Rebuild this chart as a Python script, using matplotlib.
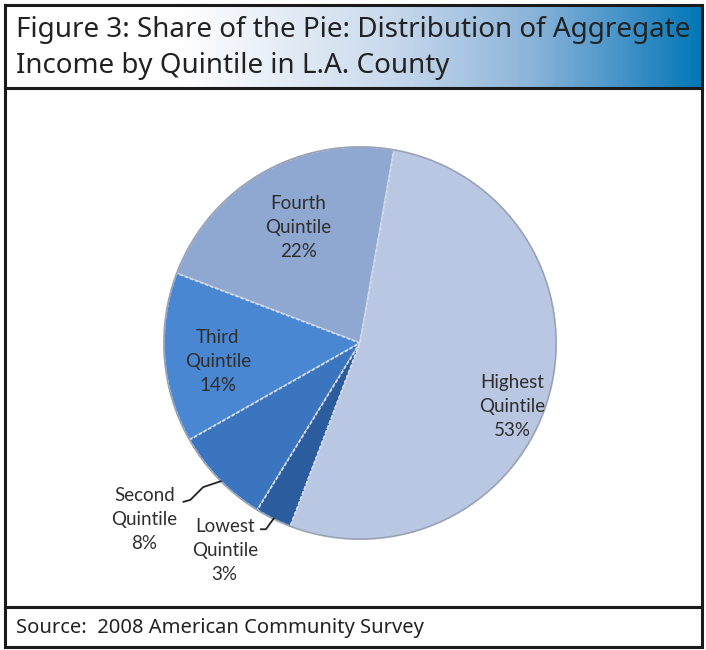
import numpy as np
import matplotlib
matplotlib.use('Agg')
import matplotlib.pyplot as plt
from matplotlib.colors import LinearSegmentedColormap
from matplotlib.patches import Rectangle, Circle

# datos del grafico
quintiles = ['Fourth\nQuintile', 'Third\nQuintile', 'Second\nQuintile', 'Lowest\nQuintile', 'Highest\nQuintile']
shares = [22, 14, 8, 3, 53]
colors = ['#8fa8d2', '#4a87d2', '#3b74bf', '#2b5c9e', '#b9c7e2']

title = 'Figure 3: Share of the Pie: Distribution of Aggregate\nIncome by Quintile in L.A. County'
source = 'Source:  2008 American Community Survey'

W, H = 706, 650
fig = plt.figure(figsize=(W / 100, H / 100), dpi=100)

def fx(px):
    return px / W

def fy(py):
    return 1 - py / H

# banda del titulo con degradado
head = fig.add_axes([fx(6), fy(88), fx(698), fy(6) - fy(88)])
grad = np.linspace(0, 1, 400).reshape(1, -1)
cmap = LinearSegmentedColormap.from_list('head', [(0, '#ffffff'), (0.25, '#ffffff'), (0.55, '#c9d9ec'),
                                                  (0.75, '#8db5da'), (0.9, '#3d8fc6'), (1, '#0077b6')])
head.imshow(grad, aspect='auto', cmap=cmap, extent=[0, 1, 0, 1])
head.set_axis_off()

# bordes
fig.patches.append(Rectangle((fx(5), fy(647)), fx(697), fy(5) - fy(647), transform=fig.transFigure,
                             fill=False, edgecolor='#1a1a1a', linewidth=2.2))
fig.add_artist(plt.Line2D([fx(5), fx(702)], [fy(88), fy(88)], color='#1a1a1a', linewidth=2.2))
fig.add_artist(plt.Line2D([fx(5), fx(702)], [fy(607), fy(607)], color='#1a1a1a', linewidth=2.2))

fig.text(fx(16), fy(48), title, ha='left', va='center', fontsize=20, color='#222222',
         family='Noto Sans', linespacing=1.4)
fig.text(fx(16), fy(628), source, ha='left', va='center', fontsize=14.5, color='#222222',
         family='Noto Sans')

# pastel
ax = fig.add_axes([fx(160), fy(543), fx(400), fy(143) - fy(543)])
wedges, _ = ax.pie(shares, colors=colors, startangle=80, counterclock=True,
                   wedgeprops=dict(edgecolor='#d5dbe6', linewidth=1.3, linestyle=(0, (2, 1))))
ax.add_patch(Circle((0, 0), 1.0, fill=False, edgecolor='#97a2b5', linewidth=1.2))
ax.set_xlim(-1.02, 1.02)
ax.set_ylim(-1.02, 1.02)

txt = dict(ha='center', va='center', fontsize=13.5, color='#2e2e2e', family='Lato', linespacing=1.5)
pct = [f'{s}%' for s in shares]
ax.text(-0.315, 0.59, f'{quintiles[0]}\n{pct[0]}', **txt)
ax.text(-0.725, -0.095, f'{quintiles[1]}\n{pct[1]}', **txt)
ax.text(0.775, -0.325, f'{quintiles[4]}\n{pct[4]}', **txt)
ax.text(-1.1, -0.9, f'{quintiles[2]}\n{pct[2]}', **txt)
ax.text(-0.69, -1.06, f'{quintiles[3]}\n{pct[3]}', **txt)

# lineas guia
ax.plot([-0.9, -0.865, -0.80, -0.71], [-0.81, -0.80, -0.735, -0.705], color='#222222', lw=1.3, clip_on=False)
ax.plot([-0.505, -0.48, -0.44], [-0.95, -0.95, -0.895], color='#222222', lw=1.3, clip_on=False)

fig.savefig('out.png', dpi=100)
